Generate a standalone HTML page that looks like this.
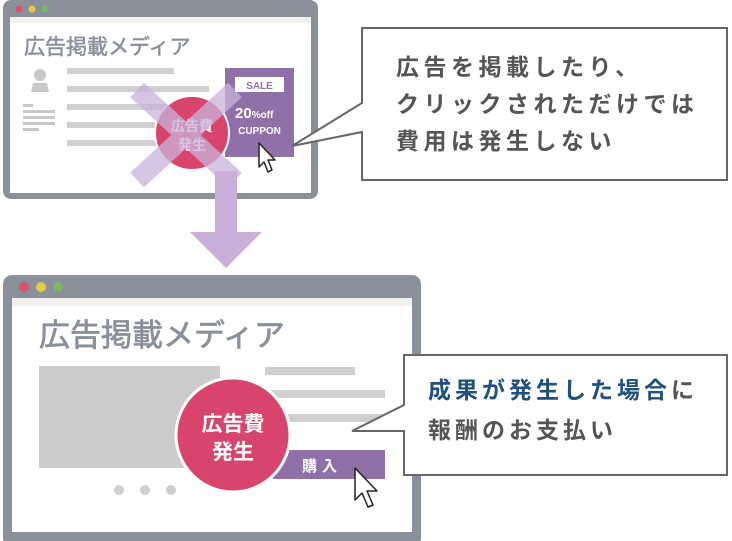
<!DOCTYPE html>
<html><head><meta charset="utf-8"><style>
html,body{margin:0;padding:0;background:#fff;}
svg{display:block;font-family:"Liberation Sans","Noto Sans CJK JP",sans-serif;}
</style></head><body>
<svg width="732" height="541" viewBox="0 0 732 541" xmlns="http://www.w3.org/2000/svg">
<rect x="3" y="0" width="315" height="199" rx="8" fill="#8a8f9c"/>
<rect x="10" y="17" width="301" height="176" fill="#fff"/>
<rect x="10" y="17" width="301" height="6" fill="#f0f0ee"/>
<circle cx="19" cy="9" r="3.5" fill="#d9506a"/>
<circle cx="32" cy="9" r="3.5" fill="#e8c84a"/>
<circle cx="45" cy="9" r="3.5" fill="#7ab85a"/>
<text x="24" y="54" font-size="21" fill="#8a8f9c" stroke="#8a8f9c" stroke-width="0.5">広告掲載メディア</text>
<circle cx="40" cy="75" r="6" fill="#c8c8c8"/>
<path d="M31 92 L33 83 L47 83 L49 92 Z" fill="#c8c8c8"/>
<rect x="23" y="104" width="10" height="3" fill="#c8c8c8"/>
<rect x="23" y="110" width="32" height="3" fill="#c8c8c8"/>
<rect x="23" y="116" width="32" height="3" fill="#c8c8c8"/>
<rect x="23" y="122" width="32" height="3" fill="#c8c8c8"/>
<rect x="23" y="128" width="16" height="3" fill="#c8c8c8"/>
<rect x="67" y="68" width="107" height="6" fill="#cfcfcf"/>
<rect x="67" y="86" width="142" height="6" fill="#cfcfcf"/>
<rect x="67" y="104" width="140" height="6" fill="#cfcfcf"/>
<rect x="67" y="122" width="140" height="6" fill="#cfcfcf"/>
<rect x="67" y="140" width="140" height="6" fill="#cfcfcf"/>
<rect x="225" y="68" width="69" height="89" fill="#9070a8"/>
<rect x="235" y="77" width="49" height="15" fill="#fff"/>
<text x="259.5" y="89" font-size="10" font-weight="bold" fill="#9070a8" text-anchor="middle">SALE</text>
<text x="235" y="118" font-size="15" font-weight="bold" fill="#fff">20<tspan font-size="10">%off</tspan></text>
<text x="259.5" y="134" font-size="10" font-weight="bold" fill="#fff" text-anchor="middle">CUPPON</text>
<circle cx="192" cy="133" r="37" fill="#d9446c" stroke="#fff" stroke-width="2"/>
<text x="192" y="131" font-size="14" font-weight="bold" fill="#fff" text-anchor="middle">広告費</text>
<text x="192" y="150" font-size="14" font-weight="bold" fill="#fff" text-anchor="middle">発生</text>
<g stroke="#c9b3dc" stroke-width="20" opacity="0.75">
<line x1="137" y1="90" x2="235" y2="180"/>
<line x1="235" y1="90" x2="137" y2="180"/>
</g>
<path d="M259 143 L259 167 L264 162 L268 172 L272 170 L268 160 L275 160 Z" fill="#fff" stroke="#222" stroke-width="1.5" stroke-linejoin="round"/>
<rect x="215" y="171" width="22" height="62" fill="#c8b0d8"/>
<path d="M190 232 L262 232 L226 268 Z" fill="#c8b0d8"/>
<path d="M362 28 L727 28 L727 180 L362 180 L362 132 L292 146 L362 103 Z" fill="#fff" stroke="#666" stroke-width="2"/>
<g font-size="23" font-weight="bold" fill="#555" letter-spacing="4.5">
<text x="396" y="75">広告を掲載したり、</text>
<text x="396" y="112">クリックされただけでは</text>
<text x="396" y="149">費用は発生しない</text>
</g>
<rect x="3" y="275" width="418" height="272" rx="9" fill="#8a8f9c"/>
<rect x="12" y="298" width="400" height="234" fill="#fff"/>
<rect x="12" y="298" width="400" height="8" fill="#f0f0ee"/>
<circle cx="24" cy="287" r="5" fill="#d9506a"/>
<circle cx="41" cy="287" r="5" fill="#e8c84a"/>
<circle cx="58" cy="287" r="5" fill="#7ab85a"/>
<text x="39" y="346" font-size="31" fill="#8a8f9c" stroke="#8a8f9c" stroke-width="0.7">広告掲載メディア</text>
<rect x="39" y="366" width="181" height="102" fill="#cbcbcb"/>
<rect x="265" y="367" width="90" height="8" fill="#cfcfcf"/>
<rect x="265" y="390" width="120" height="8" fill="#cfcfcf"/>
<rect x="265" y="414" width="120" height="8" fill="#cfcfcf"/>
<rect x="273" y="450" width="112" height="29" fill="#9070a8"/>
<text x="322" y="471" font-size="15" font-weight="bold" fill="#fff" text-anchor="middle" letter-spacing="5">購入</text>
<circle cx="119" cy="490" r="5" fill="#cfcfcf"/>
<circle cx="145" cy="490" r="5" fill="#cfcfcf"/>
<circle cx="171" cy="490" r="5" fill="#cfcfcf"/>
<circle cx="233" cy="435" r="57" fill="#d9446c" stroke="#fff" stroke-width="3"/>
<text x="233" y="431" font-size="21" font-weight="bold" fill="#fff" text-anchor="middle">広告費</text>
<text x="233" y="459" font-size="21" font-weight="bold" fill="#fff" text-anchor="middle">発生</text>
<path d="M355 468 L355 500 L362 493 L368 507 L373 505 L367 491 L377 491 Z" fill="#fff" stroke="#222" stroke-width="1.5" stroke-linejoin="round"/>
<path d="M404 355 L727 355 L727 475 L404 475 L404 431 L352 431 L404 405 Z" fill="#fff" stroke="#666" stroke-width="2"/>
<g font-size="23" font-weight="bold" letter-spacing="4">
<text x="428" y="398" fill="#1f5080">成果が発生した場合<tspan fill="#555">に</tspan></text>
<text x="428" y="438" fill="#555">報酬のお支払い</text>
</g>
</svg>
</body></html>
